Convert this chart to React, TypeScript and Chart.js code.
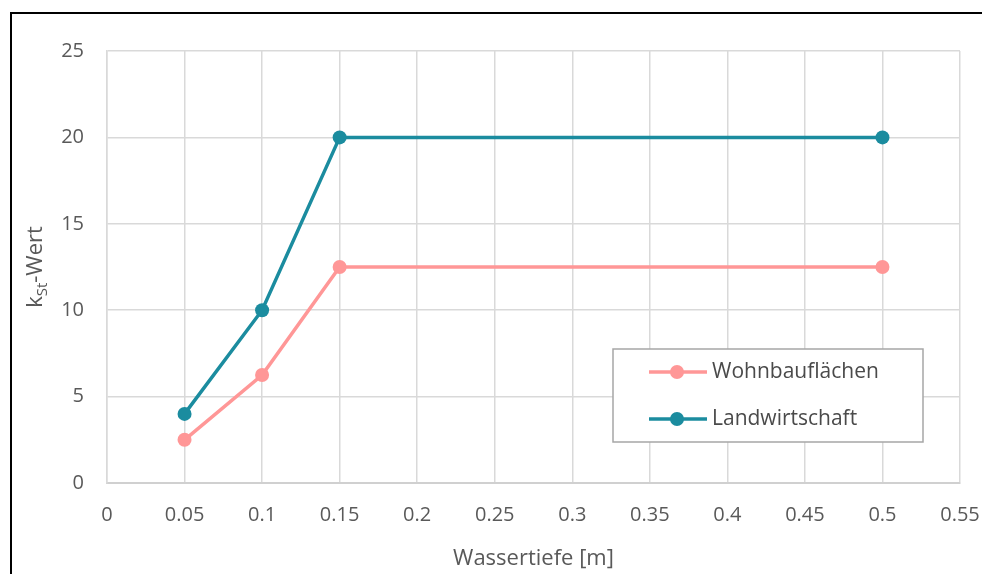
import React, { useEffect, useRef } from "react";
import { Chart, registerables } from "chart.js";

Chart.register(...registerables);

const xValues = [0.05, 0.1, 0.15, 0.5];
const wohnbauflaechen = [2.5, 6.25, 12.5, 12.5];
const landwirtschaft = [4, 10, 20, 20];
const seriesNames = ["Wohnbauflächen", "Landwirtschaft"];
const seriesColors = ["#ff9797", "#1b8c9f"];
const xTickLabels = ["0", "0.05", "0.1", "0.15", "0.2", "0.25", "0.3", "0.35", "0.4", "0.45", "0.5", "0.55"];
const yTickLabels = ["0", "5", "10", "15", "20", "25"];
const xTitle = "Wassertiefe [m]";
const yTitleMain = "k";
const yTitleSub = "St";
const yTitleRest = "-Wert";

const FONT = "'Open Sans', 'Noto Sans', sans-serif";
const TEXT = "#595959";

export default function App() {
  const ref = useRef<HTMLCanvasElement | null>(null);

  useEffect(() => {
    const canvas = ref.current;
    if (!canvas) return;

    const overlay = {
      id: "overlay",
      afterDraw(chart: any) {
        const ctx = chart.ctx as CanvasRenderingContext2D;
        const a = chart.chartArea;
        ctx.save();
        // x title
        ctx.fillStyle = TEXT;
        ctx.font = `22px ${FONT}`;
        ctx.textAlign = "center";
        ctx.textBaseline = "middle";
        ctx.fillText(xTitle, (a.left + a.right) / 2, a.bottom + 76);

        // y title with subscript
        ctx.translate(a.left - 73, (a.top + a.bottom) / 2);
        ctx.rotate(-Math.PI / 2);
        ctx.textAlign = "left";
        ctx.textBaseline = "alphabetic";
        const big = `22px ${FONT}`;
        const small = `15px ${FONT}`;
        ctx.font = big;
        const w1 = ctx.measureText(yTitleMain).width;
        ctx.font = small;
        const w2 = ctx.measureText(yTitleSub).width;
        ctx.font = big;
        const w3 = ctx.measureText(yTitleRest).width;
        const total = w1 + w2 + w3;
        let x = -total / 2;
        const base = 8;
        ctx.font = big;
        ctx.fillText(yTitleMain, x, base);
        x += w1;
        ctx.font = small;
        ctx.fillText(yTitleSub, x, base + 5);
        x += w2;
        ctx.font = big;
        ctx.fillText(yTitleRest, x, base);
        ctx.restore();

        // legend
        ctx.save();
        const bx = a.right - 347;
        const by = a.top + 298;
        const bw = 310;
        const bh = 93;
        ctx.fillStyle = "#ffffff";
        ctx.fillRect(bx, by, bw, bh);
        ctx.strokeStyle = "#a6a6a6";
        ctx.lineWidth = 1.5;
        ctx.strokeRect(bx, by, bw, bh);
        seriesNames.forEach((name, i) => {
          const ly = by + 23 + i * 47;
          ctx.strokeStyle = seriesColors[i];
          ctx.lineWidth = 3.5;
          ctx.beginPath();
          ctx.moveTo(bx + 36, ly);
          ctx.lineTo(bx + 94, ly);
          ctx.stroke();
          ctx.fillStyle = seriesColors[i];
          ctx.beginPath();
          ctx.arc(bx + 64, ly, 7, 0, Math.PI * 2);
          ctx.fill();
          ctx.fillStyle = "#4a4a4a";
          ctx.font = `21px ${FONT}`;
          ctx.textAlign = "left";
          ctx.textBaseline = "middle";
          ctx.fillText(name, bx + 99, ly);
        });
        ctx.restore();
      },
    };

    const makeData = (vals: number[]) => xValues.map((x, i) => ({ x, y: vals[i] }));

    const chart = new Chart(canvas, {
      type: "line",
      data: {
        datasets: [
          {
            label: seriesNames[0],
            data: makeData(wohnbauflaechen),
            borderColor: seriesColors[0],
            backgroundColor: seriesColors[0],
            borderWidth: 3.5,
            pointRadius: 7,
            pointBorderWidth: 0,
            pointHoverRadius: 7,
          },
          {
            label: seriesNames[1],
            data: makeData(landwirtschaft),
            borderColor: seriesColors[1],
            backgroundColor: seriesColors[1],
            borderWidth: 3.5,
            pointRadius: 7,
            pointBorderWidth: 0,
            pointHoverRadius: 7,
          },
        ],
      },
      options: {
        animation: false,
        responsive: false,
        maintainAspectRatio: false,
        layout: { padding: { left: 10, top: 51, right: 22, bottom: 0 } },
        plugins: { legend: { display: false }, tooltip: { enabled: false } },
        scales: {
          x: {
            type: "linear",
            min: 0,
            max: 0.55,
            afterFit: (s: any) => {
              s.height = 91;
              s.paddingLeft = 0;
              s.paddingRight = 0;
            },
            afterBuildTicks: (s: any) => {
              s.ticks = xTickLabels.map((_, i) => ({ value: i * 0.05 }));
            },
            ticks: {
              callback: (_v: any, i: number) => xTickLabels[i],
              color: TEXT,
              font: { family: FONT, size: 20 },
              padding: 20,
              maxRotation: 0,
              autoSkip: false,
            },
            grid: { color: "#d9d9d9", lineWidth: 1.5, drawTicks: false },
            border: { color: "#d0d0d0", width: 2 },
          },
          y: {
            type: "linear",
            min: 0,
            max: 25,
            afterFit: (s: any) => {
              s.width = 97;
              s.paddingTop = 0;
              s.paddingBottom = 0;
            },
            afterBuildTicks: (s: any) => {
              s.ticks = yTickLabels.map((_, i) => ({ value: i * 5 }));
            },
            ticks: {
              callback: (_v: any, i: number) => yTickLabels[i],
              color: TEXT,
              font: { family: FONT, size: 20 },
              padding: 23,
            },
            grid: { color: "#d9d9d9", lineWidth: 1.5, drawTicks: false },
            border: { color: "#d9d9d9", width: 1.5 },
          },
        },
      },
      plugins: [overlay],
    });

    return () => chart.destroy();
  }, []);

  return (
    <div style={{ position: "fixed", left: 0, top: 0, width: 982, height: 574, background: "#fff" }}>
      <div
        style={{
          position: "absolute",
          left: 10,
          top: 12,
          right: 0,
          bottom: 0,
          borderLeft: "2px solid #000",
          borderTop: "2px solid #000",
        }}
      />
      <canvas ref={ref} width={982} height={574} style={{ position: "absolute", left: 0, top: 0 }} />
    </div>
  );
}
